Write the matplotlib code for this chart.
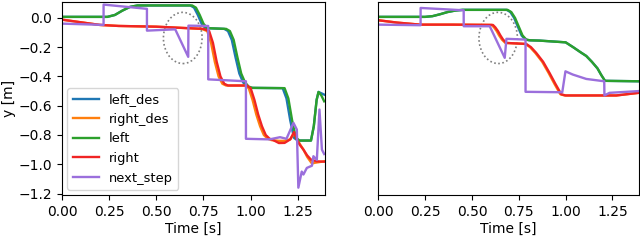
import matplotlib
matplotlib.use("Agg")
import matplotlib.pyplot as plt
from matplotlib.patches import Ellipse

# ---------------- Left panel data ----------------
L_left_t = [0, 0.24, 0.28, 0.32, 0.36, 0.40, 0.69, 0.71, 0.73, 0.75, 0.77, 0.87, 0.89, 0.91, 0.93,
            0.95, 0.97, 0.99, 1.01, 1.18, 1.20, 1.22, 1.24, 1.26, 1.32, 1.335, 1.35, 1.36, 1.375, 1.39]
L_left_y = [0.007, 0.007, 0.02, 0.05, 0.075, 0.085, 0.085, 0.07, 0.02, -0.04, -0.07, -0.075, -0.09,
            -0.15, -0.27, -0.38, -0.44, -0.47, -0.478, -0.48, -0.55, -0.70, -0.82, -0.838, -0.838,
            -0.74, -0.56, -0.506, -0.53, -0.57]

L_lefdes_t = [0, 0.24, 0.28, 0.32, 0.36, 0.40, 0.68, 0.70, 0.72, 0.74, 0.76, 0.86, 0.88, 0.90, 0.92,
              0.94, 0.96, 0.98, 1.00, 1.17, 1.19, 1.21, 1.23, 1.25, 1.32, 1.335, 1.35, 1.36, 1.375, 1.39]
L_lefdes_y = [0.007, 0.007, 0.02, 0.05, 0.075, 0.085, 0.085, 0.07, 0.02, -0.04, -0.07, -0.075, -0.09,
              -0.15, -0.27, -0.38, -0.44, -0.47, -0.478, -0.48, -0.55, -0.70, -0.82, -0.838, -0.838,
              -0.74, -0.56, -0.506, -0.515, -0.524]

L_right_t = [0, 0.1, 0.2, 0.3, 0.5, 0.75, 0.78, 0.80, 0.82, 0.84, 0.86, 0.88, 0.98, 1.00, 1.02, 1.04,
             1.06, 1.08, 1.10, 1.12, 1.15, 1.18, 1.21, 1.23, 1.245, 1.26, 1.28, 1.30, 1.32, 1.35, 1.39]
L_right_y = [-0.012, -0.03, -0.048, -0.055, -0.06, -0.075, -0.09, -0.17, -0.30, -0.40, -0.45, -0.462,
             -0.462, -0.48, -0.56, -0.66, -0.74, -0.80, -0.825, -0.835, -0.855, -0.854, -0.83, -0.78,
             -0.83, -0.866, -0.90, -0.94, -0.968, -0.98, -0.982]

L_rightdes_t = [0, 0.1, 0.2, 0.3, 0.5, 0.74, 0.77, 0.79, 0.81, 0.83, 0.85, 0.87, 0.97, 0.99, 1.01, 1.03,
                1.05, 1.07, 1.09, 1.11, 1.15, 1.18, 1.21, 1.23, 1.245, 1.26, 1.28, 1.30, 1.325, 1.34, 1.39]
L_rightdes_y = [-0.012, -0.03, -0.048, -0.055, -0.06, -0.075, -0.09, -0.17, -0.30, -0.40, -0.45, -0.462,
                -0.462, -0.48, -0.56, -0.66, -0.74, -0.80, -0.825, -0.835, -0.84, -0.84, -0.83, -0.79,
                -0.82, -0.86, -0.90, -0.95, -0.995, -0.99, -0.98]

L_step_t = [0, 0.22, 0.2201, 0.45, 0.4501, 0.60, 0.669, 0.6701, 0.775, 0.7751, 0.975, 0.9751, 1.10,
            1.156, 1.19, 1.227, 1.245, 1.253, 1.271, 1.28, 1.298, 1.325, 1.333, 1.351, 1.365, 1.378, 1.39]
L_step_y = [-0.039, -0.048, 0.091, 0.062, -0.087, -0.078, -0.266, -0.053, -0.055, -0.42, -0.433, -0.826,
            -0.83, -0.815, -0.826, -0.717, -0.763, -1.16, -1.05, -1.07, -1.025, -1.01, -0.945, -0.97,
            -0.626, -0.90, -0.93]

# ---------------- Right panel data ----------------
R_left_t = [0, 0.25, 0.29, 0.33, 0.37, 0.41, 0.45, 0.69, 0.71, 0.73, 0.75, 0.77, 0.79, 0.81, 0.86,
            1.00, 1.04, 1.08, 1.11, 1.14, 1.17, 1.19, 1.21, 1.39]
R_left_y = [0.007, 0.007, 0.012, 0.025, 0.04, 0.05, 0.055, 0.055, 0.04, 0.0, -0.06, -0.12, -0.148,
            -0.153, -0.155, -0.167, -0.20, -0.235, -0.26, -0.30, -0.345, -0.39, -0.43, -0.433]

R_lefdes_t = [0, 0.25, 0.29, 0.33, 0.37, 0.41, 0.45, 0.685, 0.705, 0.725, 0.745, 0.765, 0.785, 0.805,
              0.86, 1.00, 1.04, 1.08, 1.11, 1.14, 1.17, 1.19, 1.21, 1.39]
R_lefdes_y = R_left_y

R_right_t = [0, 0.1, 0.222, 0.40, 0.612, 0.625, 0.639, 0.652, 0.666, 0.684, 0.79, 0.815, 0.843, 0.88,
             0.914, 0.945, 0.977, 1.00, 1.27, 1.39]
R_right_y = [-0.016, -0.032, -0.046, -0.046, -0.048, -0.065, -0.09, -0.12, -0.148, -0.171, -0.178,
             -0.20, -0.239, -0.30, -0.376, -0.45, -0.522, -0.53, -0.53, -0.512]

R_rightdes_t = [0, 0.1, 0.222, 0.40, 0.605, 0.618, 0.632, 0.645, 0.66, 0.678, 0.785, 0.81, 0.838, 0.875,
                0.909, 0.94, 0.972, 0.995, 1.27, 1.39]
R_rightdes_y = R_right_y

R_step_t = [0, 0.226, 0.2261, 0.456, 0.4561, 0.595, 0.675, 0.684, 0.786, 0.7861, 0.982, 0.999, 1.038,
            1.11, 1.206, 1.207, 1.234, 1.39]
R_step_y = [-0.046, -0.05, 0.068, 0.052, -0.057, -0.057, -0.273, -0.143, -0.148, -0.505, -0.508, -0.365,
            -0.387, -0.417, -0.433, -0.53, -0.512, -0.50]

labels = ["left_des", "right_des", "left", "right", "next_step"]
colors = ["#1f77b4", "#ff7f0e", "#2ca02c", "#f02424", "#9b6fdc"]
xticks = [0.0, 0.25, 0.5, 0.75, 1.0, 1.25]
yticks = [0.0, -0.2, -0.4, -0.6, -0.8, -1.0, -1.2]

fig = plt.figure(figsize=(6.4, 2.4), dpi=100)
ax1 = fig.add_axes([0.097, 0.1875, 0.411, 0.805])
ax2 = fig.add_axes([0.591, 0.1875, 0.407, 0.805], sharey=ax1)

lw = 1.7
left_sets = [(L_lefdes_t, L_lefdes_y), (L_rightdes_t, L_rightdes_y), (L_left_t, L_left_y),
             (L_right_t, L_right_y), (L_step_t, L_step_y)]
right_sets = [(R_lefdes_t, R_lefdes_y), (R_rightdes_t, R_rightdes_y), (R_left_t, R_left_y),
              (R_right_t, R_right_y), (R_step_t, R_step_y)]

for (t, y), lab, c in zip(left_sets, labels, colors):
    ax1.plot(t, y, color=c, lw=lw, label=lab)
for (t, y), lab, c in zip(right_sets, labels, colors):
    ax2.plot(t, y, color=c, lw=lw, label=lab)

for ax in (ax1, ax2):
    ax.add_patch(Ellipse((0.64, -0.137), 0.205, 0.35, fill=False, edgecolor="gray",
                         linestyle=(0, (1, 1.5)), lw=1.2))
    ax.set_xticks(xticks)
    ax.set_xlabel("Time [s]", labelpad=2)

ax1.set_xlim(0, 1.395)
ax2.set_xlim(0, 1.39)
ax1.set_ylim(-1.21, 0.11)
ax1.set_yticks(yticks)
ax1.set_ylabel("y [m]", labelpad=2)
ax2.tick_params(axis="y", left=False, labelleft=False)
ax1.legend(loc="lower left", fontsize=9.4, borderaxespad=0.4)

fig.savefig("out.png", dpi=100)
